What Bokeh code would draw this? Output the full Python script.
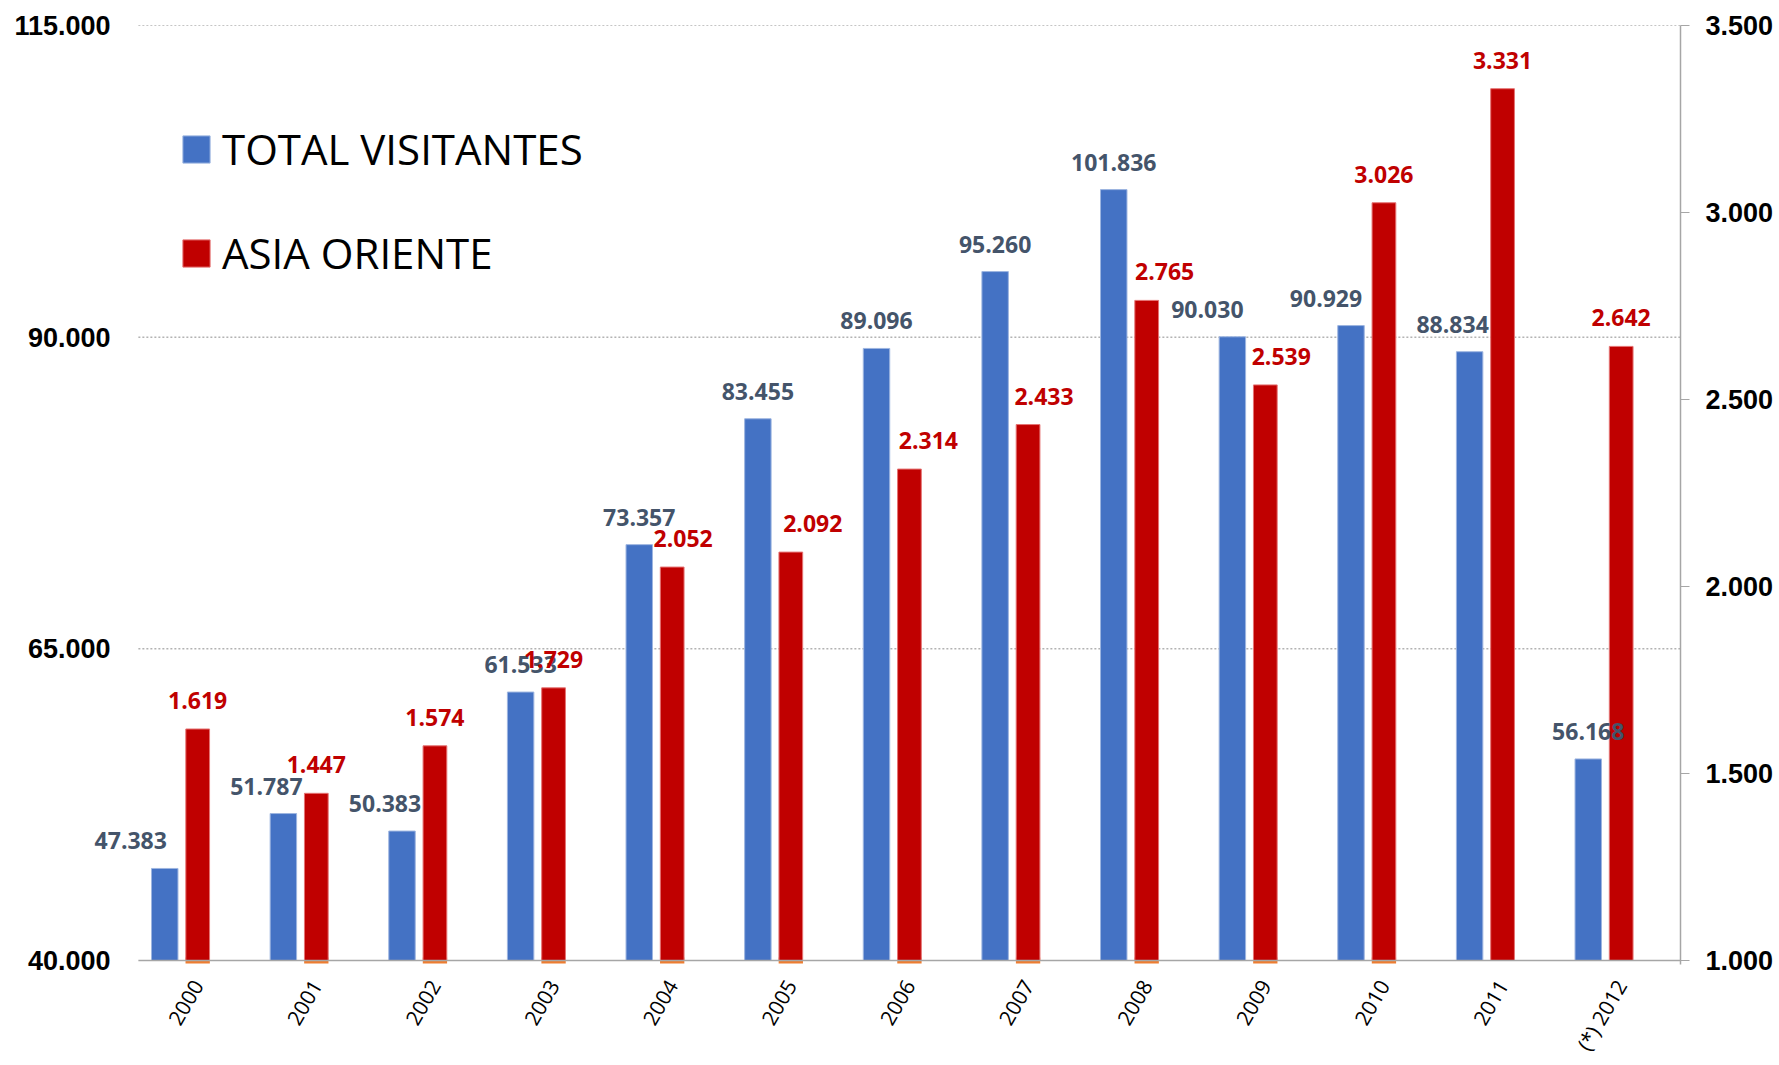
import math
from bokeh.plotting import figure
from bokeh.models import (ColumnDataSource, Range1d, LinearAxis, FixedTicker,
                          Legend, LegendItem, LabelSet)
from bokeh.transform import dodge
from bokeh.core.properties import value
from bokeh.embed import file_html
from bokeh.resources import INLINE

# ---------------- data ----------------
years = ["2000", "2001", "2002", "2003", "2004", "2005", "2006",
         "2007", "2008", "2009", "2010", "2011", "(*) 2012"]
total_visitantes = [47383, 51787, 50383, 61533, 73357, 83455, 89096,
                    95260, 101836, 90030, 90929, 88834, 56168]
asia_oriente = [1619, 1447, 1574, 1729, 2052, 2092, 2314,
                2433, 2765, 2539, 3026, 3331, 2642]
left_ticks = [40000, 65000, 90000, 115000]
right_ticks = [1000, 1500, 2000, 2500, 3000, 3500]
orange_marker_years = years[:11]

# label nudges (screen px, styling only)
blue_label_nudge = [-34, -17, -17, 0, 0, 0, 0, 0, 0, -25, -25, -17, 0]
red_label_nudge = [0, 0, 0, 0, 11, 22, 19, 16, 18, 16, 0, 0, 0]


def fmt(v):
    return f"{v:,}".replace(",", ".")


n = len(years)
idx = list(range(n))

# ---------------- layout ----------------
W, H = 1776, 1065
B_L, B_R, B_T, B_B = 88, 92, 25, 100
LEFT_PAD_PX = 50          # frame room left of the first category (for the first data label)
frame_w = W - B_L - B_R
cat_px = (frame_w - LEFT_PAD_PX) / n
x_lo, x_hi = -0.5, n - 0.5
x_start = x_lo - LEFT_PAD_PX / cat_px

frame_h = H - B_T - B_B
extra_px = 4  # room below the baseline for the orange markers
L_MIN, L_MAX = left_ticks[0], left_ticks[-1]
R_MIN, R_MAX = right_ticks[0], right_ticks[-1]
left_start = L_MIN - extra_px * (L_MAX - L_MIN) / (frame_h - extra_px)
right_start = R_MIN - extra_px * (R_MAX - R_MIN) / (frame_h - extra_px)

src = ColumnDataSource(dict(
    x=idx,
    year=years,
    total=total_visitantes,
    asia=asia_oriente,
    total_lbl=[fmt(v) for v in total_visitantes],
    asia_lbl=[fmt(v) for v in asia_oriente],
    bnudge=blue_label_nudge,
    rnudge=red_label_nudge,
))
orange_src = ColumnDataSource(dict(x=[years.index(y) for y in orange_marker_years]))

p = figure(width=W, height=H, x_range=Range1d(x_start, x_hi),
           y_range=Range1d(left_start, L_MAX),
           output_backend="svg", toolbar_location=None,
           min_border_left=B_L, min_border_right=B_R,
           min_border_top=B_T, min_border_bottom=B_B)
p.extra_y_ranges = {"right": Range1d(right_start, R_MAX)}
p.outline_line_color = None
p.background_fill_color = "white"
p.border_fill_color = "white"

# gridlines (dotted) limited to the category area, and the solid baseline
p.xgrid.visible = False
p.ygrid.visible = False
grid_vals = left_ticks[1:]
p.segment(x0=x_lo, x1=x_hi, y0=grid_vals, y1=grid_vals,
          line_color="#8C8C8C", line_dash="2 2", line_width=1)

BLUE_OFF = -0.2776

blue_r = p.vbar(x=dodge("x", BLUE_OFF), top="total", bottom=L_MIN,
                width=0.223, fill_color="#4472C4", line_color="#9DB5E0", line_width=1,
                source=src)
p.rect(x="x", y=R_MIN, width=0.205, height=6, height_units="screen",
       fill_color="#ED7D31", line_color=None, y_range_name="right", source=orange_src)
red_r = p.vbar(x="x", top="asia", bottom=R_MIN, width=0.2, y_range_name="right",
               fill_color="#C00000", line_color="#E57373", line_width=1, source=src)

p.segment(x0=x_lo, x1=x_hi, y0=L_MIN, y1=L_MIN, line_color="#A6A6A6", line_width=1.5)

# data labels
p.add_layout(LabelSet(x=dodge("x", BLUE_OFF), y="total", text="total_lbl",
                      x_offset="bnudge", y_offset=19, text_align="center",
                      text_baseline="alphabetic", text_font=value("Open Sans"),
                      text_font_style="bold", text_font_size="23px",
                      text_color="#44546A", source=src))
p.add_layout(LabelSet(x="x", y="asia", text="asia_lbl", y_range_name="right",
                      x_offset="rnudge", y_offset=20, text_align="center",
                      text_baseline="alphabetic", text_font=value("Open Sans"),
                      text_font_style="bold", text_font_size="23px",
                      text_color="#C00000", source=src))

# x axis with rotated year labels
xa = p.xaxis[0]
xa.ticker = FixedTicker(ticks=idx)
xa.major_label_overrides = {i: y for i, y in zip(idx, years)}
xa.major_label_orientation = math.pi / 3
xa.major_label_text_font = "Open Sans"
xa.major_label_text_font_size = "21px"
xa.major_label_text_color = "black"
xa.axis_line_color = None
xa.major_tick_line_color = None
xa.minor_tick_line_color = None
xa.major_label_standoff = 11

# left axis
ya = p.yaxis[0]
ya.ticker = FixedTicker(ticks=left_ticks)
ya.major_label_overrides = {v: fmt(v) for v in left_ticks}
ya.major_label_text_font = "Liberation Sans"
ya.major_label_text_font_style = "bold"
ya.major_label_text_font_size = "27px"
ya.major_label_text_color = "black"
ya.axis_line_color = None
ya.major_tick_line_color = None
ya.minor_tick_line_color = None
ya.major_label_standoff = -28

# right axis
ra = LinearAxis(y_range_name="right", ticker=FixedTicker(ticks=right_ticks),
                major_label_overrides={v: fmt(v) for v in right_ticks})
ra.major_label_text_font = "Liberation Sans"
ra.major_label_text_font_style = "bold"
ra.major_label_text_font_size = "27px"
ra.major_label_text_color = "black"
ra.axis_line_color = "#A6A6A6"
ra.axis_line_width = 1.5
ra.major_tick_line_color = "#A6A6A6"
ra.major_tick_out = 9
ra.major_tick_in = 0
ra.minor_tick_line_color = None
ra.major_label_standoff = 16
p.add_layout(ra, "right")

legend = Legend(items=[LegendItem(label="TOTAL VISITANTES", renderers=[blue_r]),
                       LegendItem(label="ASIA ORIENTE", renderers=[red_r])],
                location=(LEFT_PAD_PX + 41, 683), orientation="vertical",
                glyph_width=34, glyph_height=34, label_standoff=9, spacing=47,
                padding=0, margin=0, border_line_color=None, background_fill_alpha=0,
                label_text_font="Open Sans", label_text_font_size="42px",
                label_text_color="black")
p.add_layout(legend)

open("out.html", "w").write(file_html(p, INLINE))
